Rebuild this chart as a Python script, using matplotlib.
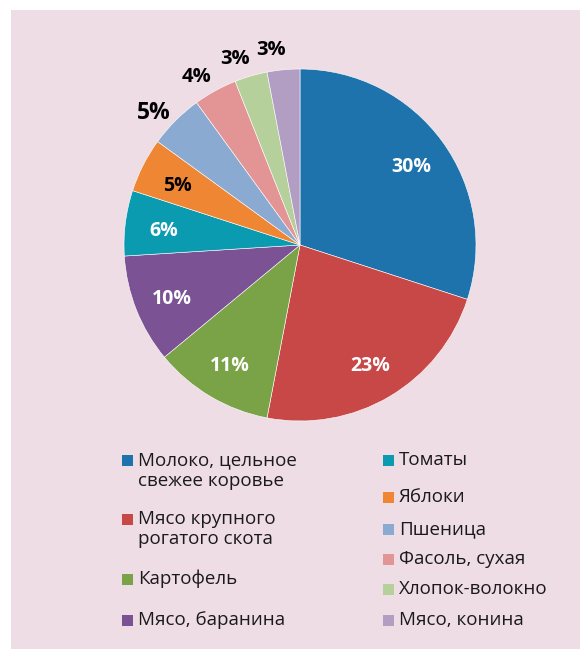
import numpy as np
import matplotlib.pyplot as plt
from matplotlib.patches import Rectangle

plt.rcParams['font.family'] = ['Open Sans', 'DejaVu Sans']

# data
categories = ['Молоко, цельное\nсвежее коровье', 'Мясо крупного\nрогатого скота', 'Картофель',
              'Мясо, баранина', 'Томаты', 'Яблоки', 'Пшеница', 'Фасоль, сухая',
              'Хлопок-волокно', 'Мясо, конина']
shares = [30, 23, 11, 10, 6, 5, 5, 4, 3, 3]
colors = ['#1f73ac', '#c84747', '#79a346', '#7b5294', '#0b9bb1', '#ef8634',
          '#8aaad2', '#e39595', '#b5d09a', '#b29ec3']
label_colors = ['white', 'white', 'white', 'white', 'white', 'black',
                'black', 'black', 'black', 'black']
outside = [False, False, False, False, False, False, True, True, True, True]

W, H = 580, 649
fig = plt.figure(figsize=(W / 100, H / 100), dpi=100)
fig.patch.set_facecolor('white')

ax = fig.add_axes([0, 0, 1, 1])

# pink panel
ax.add_patch(Rectangle((11, 0), W - 11, H - 10, facecolor='#efdde5', edgecolor='none', zorder=0))

cx, cy, R = 300, H - 245, 176
wedges, _ = ax.pie(shares, colors=colors, startangle=90, counterclock=False,
                   center=(cx, cy), radius=R, frame=True,
                   wedgeprops=dict(edgecolor='white', linewidth=0.4))
ax.set_xlim(0, W)
ax.set_ylim(0, H)
ax.set_aspect('equal')
ax.axis('off')

for w, s, c, out in zip(wedges, shares, label_colors, outside):
    ang = np.deg2rad((w.theta1 + w.theta2) / 2)
    if out:
        # outside labels sit a little further round, fanned out to the left
        ang += np.deg2rad(3)
        r = R * 1.12
        size = 16.5 if s == 5 else 14.5
        dy = 0
    else:
        r = R * 0.78
        size = 14
        dy = -3
    ax.text(cx + r * np.cos(ang), cy + r * np.sin(ang) + dy, f'{s}%', color=c,
            fontsize=size, fontweight='bold', ha='center', va='center', zorder=5)

# legend, drawn by hand in two columns
left_rows = [460, 519, 579, 620]
right_rows = [460, 497, 529, 559, 589, 620]
positions = [(122, y) for y in left_rows] + [(383, y) for y in right_rows]
for (x, y), name, col in zip(positions, categories, colors):
    ax.add_patch(Rectangle((x, H - y - 5.5), 11, 11, facecolor=col, edgecolor='none', zorder=4))
    for i, line in enumerate(name.split('\n')):
        ax.text(x + 16, H - y - i * 20.5, line, fontsize=13.5, color='#1a1a1a',
                ha='left', va='center', zorder=5)

fig.savefig('out.png', dpi=100, facecolor=fig.get_facecolor())
